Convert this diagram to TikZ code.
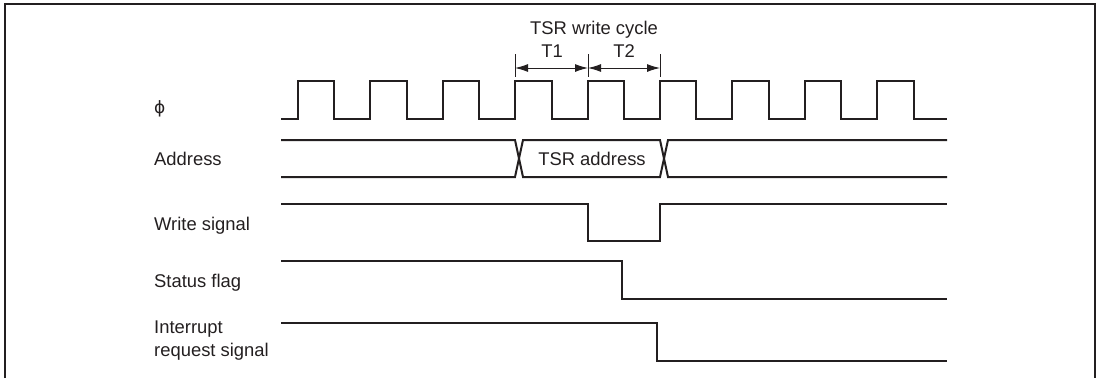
\documentclass[tikz,border=0pt]{standalone}
\usepackage{fontspec}
\setmainfont{Liberation Sans}
\newfontfamily\phifont{DejaVu Sans}
\usepackage{xcolor}
\usepackage{tikz}
\usetikzlibrary{arrows.meta}
\definecolor{ink}{HTML}{231F20}
\tikzset{
  sig/.style={draw=ink, line width=2pt, line join=miter},
  lbl/.style={anchor=west, inner sep=0pt, text=ink},
  dimline/.style={draw=ink, line width=1pt},
}
\begin{document}
\begin{tikzpicture}[x=1pt, y=-1pt,
    font=\fontsize{18.4}{23}\selectfont,
    >={Latex[length=13pt,width=8pt]}]
    \useasboundingbox (0,0) rectangle (1102,378);
    \draw[ink, line width=2.2pt] (5,378) -- (5,4) -- (1095,4) -- (1095,378);
    % signal names
    \node[lbl] (phi) at (154,109) {\phifont\fontsize{17}{20}\selectfont ϕ};
    \node[lbl] (addr) at (154,159) {Address};
    \node[lbl] (wr) at (154,226) {Write signal};
    \node[lbl] (flag) at (154,283) {Status flag};
    \node[lbl, align=left] (irq) at (154,341) {Interrupt\\request signal};
    % clock
    \draw[sig] (281,119)
      \foreach \k in {0,...,8}{
        -- ({298+72.4*\k},119) -- ++(0,-38) -- ++(36.3,0) -- ++(0,38)
      } -- (947,119);
    % address bus
    \draw[sig] (281,140) -- (515,140) -- (523,177) -- (660,177)
      -- (668,140) -- (947,140);
    \draw[sig] (281,177) -- (515,177) -- (523,140) -- (660,140)
      -- (668,177) -- (947,177);
    \node[text=ink] (tsraddr) at (592,159) {TSR address};
    % write, flag, interrupt
    \draw[sig] (281,204) -- (588,204) -- (588,241) -- (660,241)
      -- (660,204) -- (947,204);
    \draw[sig] (281,261) -- (622,261) -- (622,299) -- (947,299);
    \draw[sig] (281,323) -- (657,323) -- (657,361) -- (947,361);
    % write cycle
    \coordinate (c0) at (515,54);
    \coordinate (c1) at (588,54);
    \coordinate (c2) at (660,54);
    \foreach \c in {c0,c1,c2}{
      \draw[dimline] (\c) -- ++(0,23);
    }
    \draw[dimline, <->] ([yshift=-14pt]c0) -- ([yshift=-14pt]c1);
    \draw[dimline, <->] ([yshift=-14pt]c1) -- ([yshift=-14pt]c2);
    \node[text=ink] (ta) at (552,51) {T1};
    \node[text=ink] (tb) at (624,51) {T2};
    \node[text=ink] (cyc) at (594,30) {TSR write cycle};
\end{tikzpicture}
\end{document}
